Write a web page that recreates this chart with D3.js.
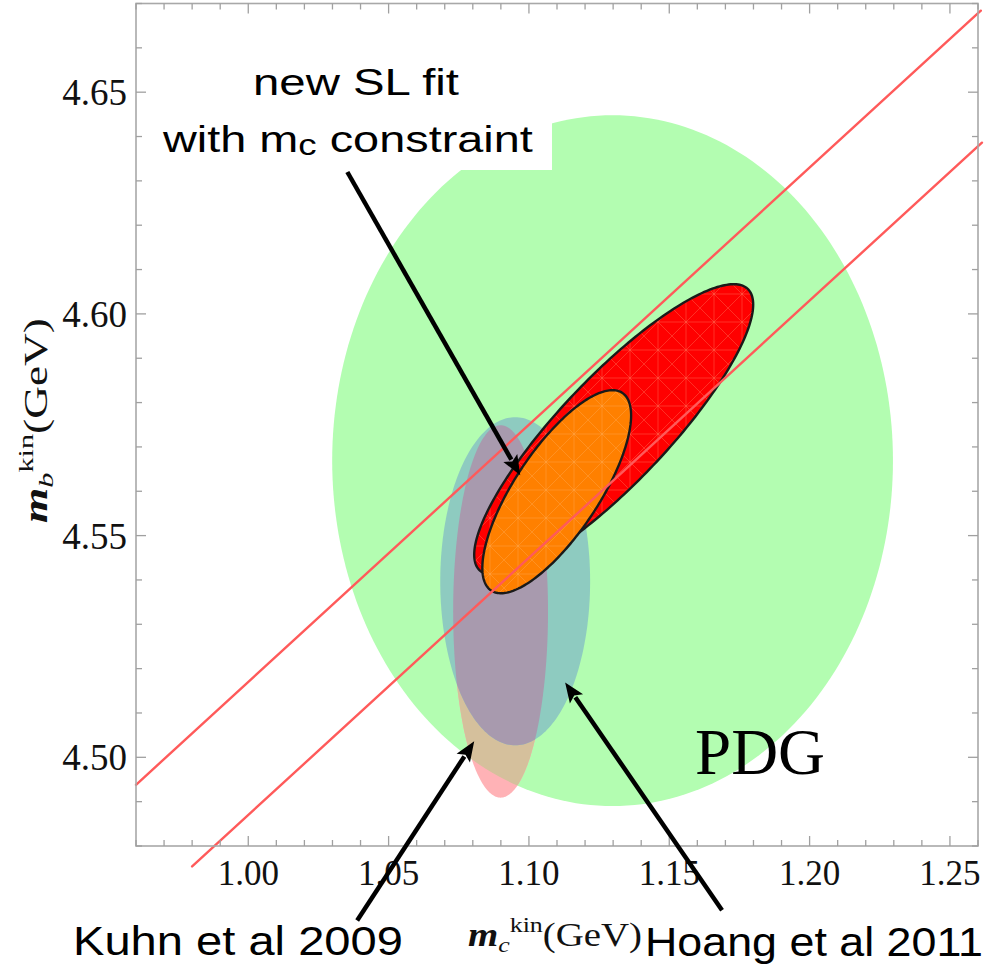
<!DOCTYPE html>
<html><head><meta charset="utf-8">
<script src="https://cdn.jsdelivr.net/npm/d3@7"></script>
<style>html,body{margin:0;padding:0;background:#fff;} svg{display:block;}</style>
</head><body>
<svg id="chart" width="990" height="966"></svg>
<script>
// ---------------- data ----------------
const xTickLabels = ["1.00","1.05","1.10","1.15","1.20","1.25"];
const yTickLabels = ["4.50","4.55","4.60","4.65"];
const xDomain = [0.96, 1.26];
const yDomain = [4.48, 4.67];

// allowed regions in the (m_c, m_b) plane: centre, half-widths, correlation
const regionNames  = ["PDG", "Kuhn et al 2009", "Hoang et al 2011", "SL fit", "SL fit with mc constraint"];
const regionMc     = [1.1298, 1.0899, 1.0951, 1.1302, 1.1099];
const regionMb     = [4.5669, 4.5329, 4.5397, 4.5739, 4.5599];
const regionSigMc  = [0.0999, 0.0169, 0.0267, 0.0497, 0.0265];
const regionSigMb  = [0.0779, 0.0420, 0.0370, 0.0328, 0.0229];
const regionRho    = [0, 0, 0, 0.86, 0.75];

// band of m_b - 0.58 m_c = const
const bandSlope     = 0.58;
const bandIntercept = [3.937, 3.907];
const bandMcStart   = [0.96, 0.98];
const bandMcEnd     = [1.261, 1.2614];

// annotation arrows (tail -> tip), in (m_c, m_b) units
const arrowTailMc = [1.0353, 1.0388, 1.1688];
const arrowTailMb = [4.6320, 4.4632, 4.4655];
const arrowTipMc  = [1.0969, 1.0805, 1.1129];
const arrowTipMb  = [4.5636, 4.5036, 4.5169];

// ---------------- layout ----------------
const svg = d3.select("#chart");
const X0 = 136, X1 = 978, Y0 = 846, Y1 = 3.5;
const x = d3.scaleLinear().domain(xDomain).range([X0, X1]);
const y = d3.scaleLinear().domain(yDomain).range([Y0, Y1]);

const col = {green:"#b3fdb1", pink:"#ffb2b6", tan:"#d5c09c", teal:"#8ecbc0", purple:"#a89aae",
             red:"#ff0000", orange:"#ff8000", band:"#ff5a5a"};

function ellipse(i){
  const r = regionRho[i], q = Math.sqrt(1 - r*r);
  return d3.range(0, 241).map(k => {
    const t = k/240*2*Math.PI;
    return [regionMc[i] + regionSigMc[i]*Math.cos(t),
            regionMb[i] + regionSigMb[i]*(r*Math.cos(t) + q*Math.sin(t))];
  });
}
const line = d3.line().x(d => x(d[0])).y(d => y(d[1])).curve(d3.curveLinearClosed);
const pathD = regionNames.map((n,i) => line(ellipse(i)));

const defs = svg.append("defs");
defs.append("clipPath").attr("id","clipGreen").append("path").attr("d", pathD[0]);
defs.append("clipPath").attr("id","clipTeal").append("path").attr("d", pathD[2]);

// mesh patterns (Mathematica triangulation look)
function mesh(id, stroke){
  const p = defs.append("pattern").attr("id", id).attr("patternUnits","userSpaceOnUse")
    .attr("width", 28).attr("height", 28);
  p.append("path").attr("d","M0,0L28,28M28,0L0,28M14,0V28M0,14H28")
    .attr("stroke", stroke).attr("stroke-width", 1).attr("fill","none").attr("opacity",0.35);
}
mesh("meshRed", "#ff8a6a");
mesh("meshOrange", "#ffb060");

const plot = svg.append("g");
plot.append("path").attr("d", pathD[0]).attr("fill", col.green);
plot.append("path").attr("d", pathD[1]).attr("fill", col.pink);
plot.append("path").attr("d", pathD[1]).attr("fill", col.tan).attr("clip-path","url(#clipGreen)");
plot.append("path").attr("d", pathD[2]).attr("fill", col.teal);
plot.append("path").attr("d", pathD[1]).attr("fill", col.purple).attr("clip-path","url(#clipTeal)");

plot.append("path").attr("d", pathD[3]).attr("fill", col.red);
plot.append("path").attr("d", pathD[3]).attr("fill", "url(#meshRed)");
plot.append("path").attr("d", pathD[3]).attr("fill", "none").attr("stroke","#1a1a1a").attr("stroke-width",2.4);
plot.append("path").attr("d", pathD[4]).attr("fill", col.orange);
plot.append("path").attr("d", pathD[4]).attr("fill", "url(#meshOrange)");
plot.append("path").attr("d", pathD[4]).attr("fill", "none").attr("stroke","#1a1a1a").attr("stroke-width",2.4);

// band lines
bandIntercept.forEach((a,i) => {
  plot.append("line")
    .attr("x1", x(bandMcStart[i])).attr("y1", y(a + bandSlope*bandMcStart[i]))
    .attr("x2", x(bandMcEnd[i])).attr("y2", y(a + bandSlope*bandMcEnd[i]))
    .attr("stroke", col.band).attr("stroke-width", 2.4).attr("stroke-linecap","round");
});

// ---------------- frame & ticks ----------------
const frame = svg.append("g");
frame.append("rect").attr("x", X0).attr("y", Y1).attr("width", X1-X0).attr("height", Y0-Y1)
  .attr("fill","none").attr("stroke","#a8a8a8").attr("stroke-width",1.6);
const xt = d3.range(96, 127).map(v => v/100);
const yt = d3.range(448, 468).map(v => v/100);
const isMajor = v => Math.abs(Math.round(v*100) % 5) === 0;
xt.forEach(v => {
  const L = isMajor(v) ? 10 : 6;
  frame.append("line").attr("x1", x(v)).attr("x2", x(v)).attr("y1", Y0).attr("y2", Y0-L)
    .attr("stroke","#a0a0a0").attr("stroke-width",1.3);
  frame.append("line").attr("x1", x(v)).attr("x2", x(v)).attr("y1", Y1).attr("y2", Y1+L)
    .attr("stroke","#a0a0a0").attr("stroke-width",1.3);
});
yt.forEach(v => {
  const L = isMajor(v) ? 10 : 6;
  frame.append("line").attr("y1", y(v)).attr("y2", y(v)).attr("x1", X0).attr("x2", X0+L)
    .attr("stroke","#a0a0a0").attr("stroke-width",1.3);
  frame.append("line").attr("y1", y(v)).attr("y2", y(v)).attr("x1", X1).attr("x2", X1-L)
    .attr("stroke","#a0a0a0").attr("stroke-width",1.3);
});
const serif = "'Liberation Serif','Times New Roman',serif";
const sans = "'Liberation Sans',Arial,sans-serif";
xTickLabels.forEach(s => {
  svg.append("text").attr("x", x(+s)).attr("y", 885).attr("text-anchor","middle")
    .attr("font-family", serif).attr("font-size", 35).attr("fill","#111").text(s);
});
yTickLabels.forEach(s => {
  svg.append("text").attr("x", 127).attr("y", y(+s) + 13).attr("text-anchor","end")
    .attr("font-family", serif).attr("font-size", 37).attr("fill","#111").text(s);
});

// ---------------- text helpers ----------------
function fitText(tx, ty, width, rotate, build){
  const g = svg.append("g");
  const t = g.append("text").attr("x",0).attr("y",0);
  build(t);
  const w = t.node().getBBox().width;
  const s = width / w;
  g.attr("transform", `translate(${tx},${ty})` + (rotate ? ` rotate(${rotate})` : "") + ` scale(${s},1)`);
  return g;
}

// white label box behind top annotation
svg.append("rect").attr("x", 150).attr("y", 45).attr("width", 402).attr("height", 125).attr("fill","#fff");

fitText(253, 95, 207, 0, t => t.attr("font-family", sans).attr("font-size", 37).attr("fill","#000").text("new SL fit"));
fitText(163, 152, 372, 0, t => {
  t.attr("font-family", sans).attr("font-size", 37).attr("fill","#000");
  t.append("tspan").text("with m");
  t.append("tspan").attr("font-size", 29).attr("dy", 3).text("c");
  t.append("tspan").attr("dy", -3).text(" constraint");
});
fitText(73, 955, 330, 0, t => t.attr("font-family", sans).attr("font-size", 41).attr("fill","#000").text("Kuhn et al 2009"));
fitText(645, 956, 338, 0, t => t.attr("font-family", sans).attr("font-size", 40).attr("fill","#000").text("Hoang et al 2011"));
fitText(695, 774, 130, 0, t => t.attr("font-family", serif).attr("font-size", 66).attr("fill","#000").text("PDG"));

// axis titles
function massTitle(t, sub){
  t.attr("font-family", serif).attr("font-size", 33).attr("fill","#111");
  t.append("tspan").attr("font-style","italic").attr("font-weight","bold").text("m");
  t.append("tspan").attr("font-style","italic").attr("font-size", 22).attr("dy", 6).text(sub);
  t.append("tspan").attr("font-size", 22).attr("dy", -20).text("kin");
  t.append("tspan").attr("dy", 14).text("(GeV)");
}
fitText(468, 946, 174, 0, t => massTitle(t, "c"));
fitText(47, 523, 205, -90, t => massTitle(t, "b"));

// arrows
arrowTipMc.forEach((_, i) => {
  const tx = x(arrowTailMc[i]), ty = y(arrowTailMb[i]);
  const px = x(arrowTipMc[i]), py = y(arrowTipMb[i]);
  const dx = px - tx, dy = py - ty, L = Math.hypot(dx, dy);
  const ux = dx/L, uy = dy/L, nx = -uy, ny = ux;
  const hl = 20, hw = 8;
  const bx = px - ux*hl, by = py - uy*hl;
  svg.append("line").attr("x1", tx).attr("y1", ty).attr("x2", bx + ux*2).attr("y2", by + uy*2)
    .attr("stroke","#000").attr("stroke-width", 4.5);
  svg.append("path").attr("d", `M${px},${py}L${bx+nx*hw},${by+ny*hw}L${bx+ux*4},${by+uy*4}L${bx-nx*hw},${by-ny*hw}Z`)
    .attr("fill","#000");
});
</script>
</body></html>
